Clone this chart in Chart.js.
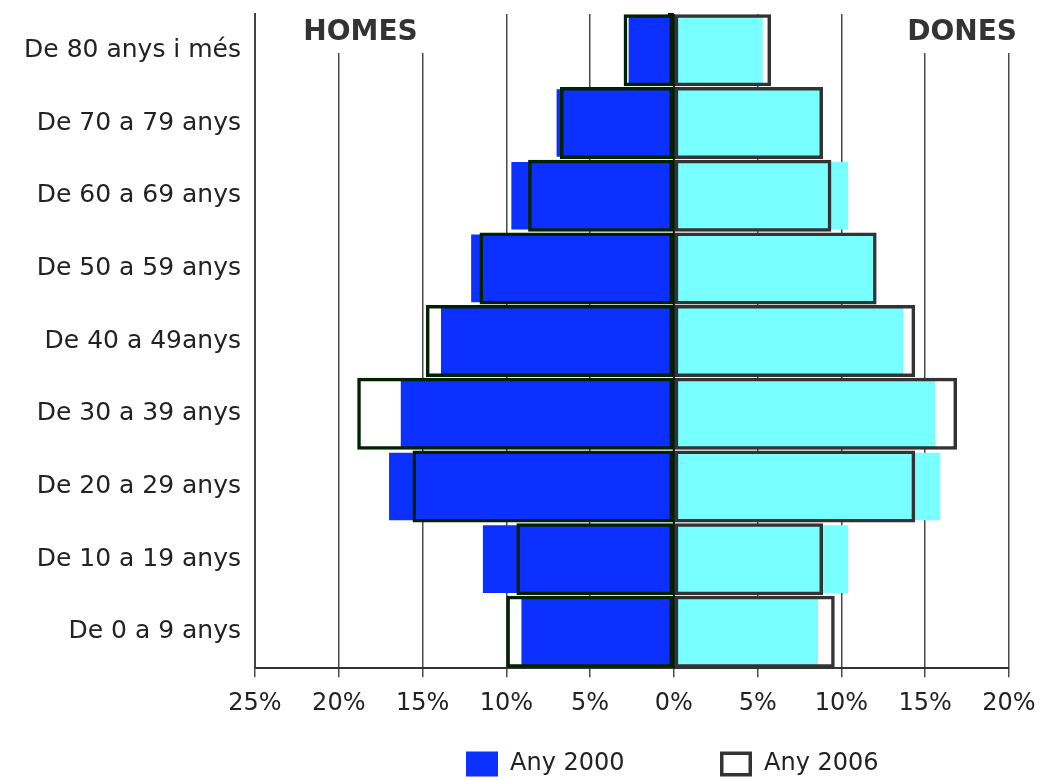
<!DOCTYPE html>
<html>
<head>
<meta charset="utf-8">
<script src="https://cdn.jsdelivr.net/npm/chart.js@4/dist/chart.umd.min.js"></script>
<style>
  html, body { margin: 0; padding: 0; background: #fff; }
  #wrap { width: 1040px; height: 780px; }
</style>
</head>
<body>
<div id="wrap"><canvas id="pyramid" width="1040" height="780"></canvas></div>
<script>
// --- DATA (percent of population) ---
const ageGroups = ['De 80 anys i més', 'De 70 a 79 anys', 'De 60 a 69 anys', 'De 50 a 59 anys',
    'De 40 a 49anys', 'De 30 a 39 anys', 'De 20 a 29 anys', 'De 10 a 19 anys', 'De 0 a 9 anys'];
const homes2000 = [2.7, 7.0, 9.7, 12.1, 13.9, 16.3, 17.0, 11.4, 9.1];
const homes2006 = [3.0, 6.8, 8.7, 11.6, 14.8, 18.9, 15.6, 9.4, 10.0];
const dones2000 = [5.3, 8.8, 10.4, 12.0, 13.7, 15.6, 15.9, 10.4, 8.6];
const dones2006 = [5.8, 8.9, 9.4, 12.1, 14.4, 16.9, 14.4, 8.9, 9.6];
const xTicks = [-25, -20, -15, -10, -5, 0, 5, 10, 15, 20];
const seriesNames = ['Any 2000', 'Any 2006'];
const sideTitles = ['HOMES', 'DONES'];

// --- STYLE ---
const COLORS = {
    blue: '#0c30ff',
    cyan: '#78ffff',
    menEdge: '#002200',
    womenEdge: '#333333',
    grid: '#4a4a4a',
    text: '#222222',
};
const FONT = 'DejaVu Sans';

// white boxes behind the side titles, zero line and legend
const sideTitlePlugin = {
    id: 'sideTitles',
    beforeDatasetsDraw(chart) {
        const { ctx, chartArea, scales: { x } } = chart;
        ctx.save();
        ctx.font = `bold 28px "${FONT}"`;
        ctx.textBaseline = 'middle';
        ctx.textAlign = 'center';
        const spots = [
            { text: sideTitles[0], cx: x.getPixelForValue(-18.7) },
            { text: sideTitles[1], cx: x.getPixelForValue(17.2) },
        ];
        spots.forEach(s => {
            const w = ctx.measureText(s.text).width;
            ctx.fillStyle = '#fff';
            ctx.fillRect(s.cx - w / 2 - 14, chartArea.top - 2, w + 28, 55 - chartArea.top);
            ctx.fillStyle = '#333';
            ctx.fillText(s.text, s.cx, 33);
        });
        ctx.restore();
    },
    afterDatasetsDraw(chart) {
        const { ctx, chartArea, scales: { x } } = chart;
        const x0 = x.getPixelForValue(0);
        ctx.save();
        ctx.strokeStyle = '#111';
        ctx.lineWidth = 2;
        ctx.beginPath();
        ctx.moveTo(x0, chartArea.top);
        ctx.lineTo(x0, chartArea.bottom);
        ctx.moveTo(x0 - 6, chartArea.top);
        ctx.lineTo(x0, chartArea.top);
        ctx.stroke();
        ctx.restore();
    },
    afterDraw(chart) {
        // legend: one filled key and one outlined key
        const { ctx } = chart;
        ctx.save();
        ctx.font = `24px "${FONT}"`;
        ctx.textBaseline = 'middle';
        ctx.textAlign = 'left';
        const y = 764;
        const keys = [
            { left: 466, fill: COLORS.blue, stroke: null },
            { left: 720, fill: '#fff', stroke: '#333' },
        ];
        keys.forEach((k, i) => {
            ctx.fillStyle = k.fill;
            ctx.fillRect(k.left, y - 12.5, 32, 25);
            if (k.stroke) {
                ctx.strokeStyle = k.stroke;
                ctx.lineWidth = 3.5;
                ctx.strokeRect(k.left + 1.75, y - 10.75, 28.5, 21.5);
            }
            ctx.fillStyle = COLORS.text;
            ctx.fillText(seriesNames[i], k.left + 44, y);
        });
        ctx.restore();
    }
};

function renderPyramid() {
    const ctx = document.getElementById('pyramid').getContext('2d');
    const outline = { backgroundColor: 'rgba(0,0,0,0)', borderWidth: 3.5, borderSkipped: false,
        categoryPercentage: 0.99, barPercentage: 1, order: 0 };
    const filled = { borderWidth: 0, categoryPercentage: 0.93, barPercentage: 1, order: 1 };
    new Chart(ctx, {
        type: 'bar',
        data: {
            labels: ageGroups,
            datasets: [
                { ...outline, label: seriesNames[1] + ' homes', data: homes2006.map(v => -v), borderColor: COLORS.menEdge },
                { ...outline, label: seriesNames[1] + ' dones', data: dones2006, borderColor: COLORS.womenEdge },
                { ...filled, label: seriesNames[0] + ' homes', data: homes2000.map(v => -v), backgroundColor: COLORS.blue },
                { ...filled, label: seriesNames[0] + ' dones', data: dones2000, backgroundColor: COLORS.cyan },
            ]
        },
        options: {
            indexAxis: 'y',
            responsive: false,
            animation: false,
            grouped: false,
            layout: { padding: { top: 14, right: 31, bottom: 50, left: 0 } },
            plugins: {
                legend: { display: false },
                tooltip: { enabled: false }
            },
            scales: {
                x: {
                    min: -25,
                    max: 20,
                    afterBuildTicks: (axis) => { axis.ticks = xTicks.map(v => ({ value: v })); },
                    afterFit: (axis) => { axis.paddingLeft = 0; axis.paddingRight = 0; },
                    ticks: {
                        color: COLORS.text,
                        font: { family: FONT, size: 24 },
                        padding: 12,
                        maxRotation: 0,
                        callback: (value) => Math.abs(value) + '%'
                    },
                    grid: { color: COLORS.grid, lineWidth: 1.5, tickLength: 9 },
                    border: { color: '#333', width: 2 }
                },
                y: {
                    afterFit: (axis) => { axis.width = 255; axis.paddingTop = 0; axis.paddingBottom = 0; },
                    ticks: {
                        color: COLORS.text,
                        font: { family: FONT, size: 25 },
                        padding: 6
                    },
                    grid: { display: false },
                    border: { color: '#444', width: 2 }
                }
            }
        },
        plugins: [sideTitlePlugin]
    });
}

window.onload = renderPyramid;
</script>
</body>
</html>
